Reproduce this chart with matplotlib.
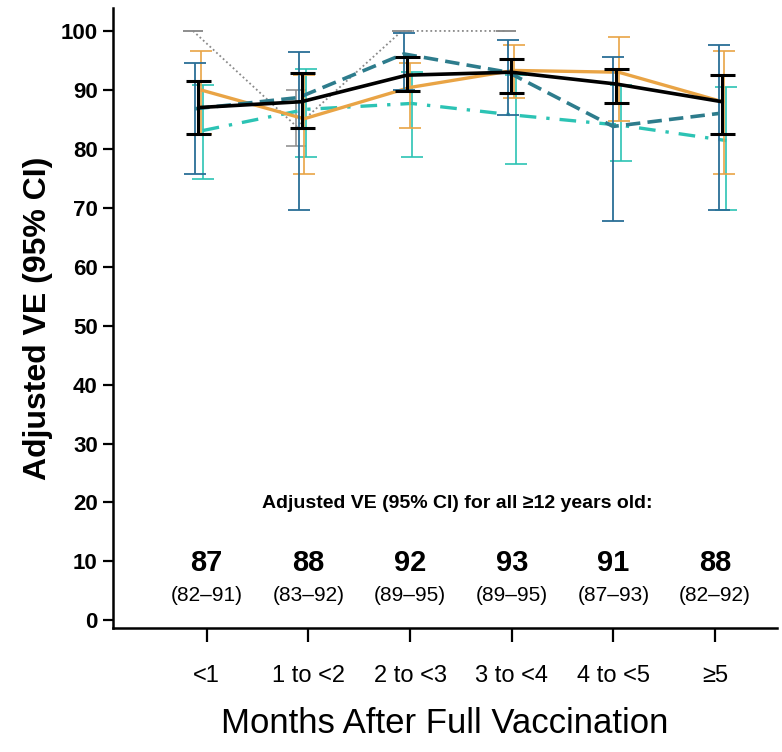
import matplotlib
matplotlib.use("Agg")
import matplotlib.pyplot as plt
from matplotlib.font_manager import fontManager

names = {f.name for f in fontManager.ttflist}
NARROW = "Liberation Sans Narrow" if "Liberation Sans Narrow" in names else "Liberation Sans"
plt.rcParams['font.family'] = [NARROW, 'DejaVu Sans']

# ---------------- data ----------------
categories = ["<1", "1 to <2", "2 to <3", "3 to <4", "4 to <5", "\u22655"]

# overall (>=12 y)
all_ve = [87, 88, 92.5, 93, 91, 88]
all_lo = [82.6, 83.6, 89.8, 89.5, 87.7, 82.6]
all_hi = [91.5, 92.8, 95.6, 95.2, 93.6, 92.6]

# orange solid
or_ve = [90.0, 85.1, 90.4, 93.3, 93.0, 87.9]
or_lo = [82.5, 75.7, 83.6, 88.7, 84.7, 75.8]
or_hi = [96.6, 92.5, 94.6, 97.7, 98.9, 96.6]

# dark teal dashed
dt_ve = [86.8, 88.7, 96.1, 93.0, 83.8, 86.0]
dt_lo = [75.7, 69.6, 90.0, 85.7, 67.7, 69.6]
dt_hi = [94.5, 96.4, 99.6, 98.4, 95.6, 97.6]

# turquoise dash-dot
cy_ve = [83.1, 86.7, 87.7, 85.7, 84.0, 81.4]
cy_lo = [74.9, 78.6, 78.6, 77.5, 77.9, 69.6]
cy_hi = [90.8, 93.6, 93.0, 92.5, 90.8, 90.5]

# gray dotted (first four intervals only)
gr_ve = [100, 83.8, 100, 100]
gr_lo = [100, 80.4, 100, 100]
gr_hi = [100, 90.0, 100, 100]

# table under the lines
table_ve = ["87", "88", "92", "93", "91", "88"]
table_ci = ["(82\u201391)", "(83\u201392)", "(89\u201395)", "(89\u201395)", "(87\u201393)", "(82\u201392)"]

# ---------------- layout ----------------
ticks = list(range(len(categories)))
pos = [-0.083, 0.934, 1.970, 2.993, 4.026, 5.066]   # plotted group centres

fig = plt.figure(figsize=(7.82, 7.52), dpi=100)
ax = fig.add_axes([0.1445, 0.1649, 0.849, 0.8245])


def draw(vals, lo, hi, off, color, ls, lw, elw, cap, z, ecolor=None):
    n = len(vals)
    xs = [p + off for p in pos[:n]]
    yerr = [[v - l for v, l in zip(vals, lo)], [h - v for v, h in zip(vals, hi)]]
    ax.errorbar(xs, vals, yerr=yerr, fmt='none', ecolor=ecolor or color,
                elinewidth=elw, capsize=cap, capthick=elw, zorder=z)
    ax.plot(xs, vals, color=color, linestyle=ls, lw=lw, zorder=z + 0.5,
            solid_capstyle='butt', dash_capstyle='butt')


draw(gr_ve, gr_lo, gr_hi, -0.05, '#8a8a8a', (0, (1, 1.5)), 1.3, 1.1, 7, 1)
draw(cy_ve, cy_lo, cy_hi, 0.045, '#2cc3b4', (0, (5, 3, 1, 3)), 2.4, 1.2, 8, 2)
draw(or_ve, or_lo, or_hi, 0.025, '#e9a445', '-', 2.4, 1.2, 8, 3)
draw(dt_ve, dt_lo, dt_hi, -0.03, '#2d7c8c', (0, (4, 2)), 2.6, 1.3, 8, 4, ecolor='#2a6e96')
draw(all_ve, all_lo, all_hi, 0.0, '#000000', '-', 2.6, 2.2, 9, 6)

ax.set_xlim(-0.92, 5.607)
ax.set_ylim(-1.3, 103.9)
ax.set_yticks(range(0, 101, 10))
ax.set_xticks(ticks)
ax.set_xticklabels(categories)
for s in ['top', 'right']:
    ax.spines[s].set_visible(False)
for s in ['left', 'bottom']:
    ax.spines[s].set_linewidth(1.8)
ax.tick_params(axis='y', length=7, width=1.6, pad=4, labelsize=16)
ax.tick_params(axis='x', length=10, width=1.6, pad=17, labelsize=17)
for t in ax.get_yticklabels():
    t.set_fontweight('bold')

ax.set_ylabel("Adjusted VE (95% CI)", fontsize=23, fontweight='bold', labelpad=18)
ax.yaxis.set_label_coords(-0.09, 0.5)
ax.set_xlabel("Months After Full Vaccination", fontsize=25, labelpad=14)

ax.text(2.46, 19.8, "Adjusted VE (95% CI) for all \u226512 years old:",
        ha='center', va='center', fontsize=14, fontweight='bold')
for t, v, c in zip(ticks, table_ve, table_ci):
    ax.text(t, 9.8, v, ha='center', va='center', fontsize=21, fontweight='bold')
    ax.text(t, 4.2, c, ha='center', va='center', fontsize=15)

fig.savefig("out.png", dpi=100, facecolor='white')
